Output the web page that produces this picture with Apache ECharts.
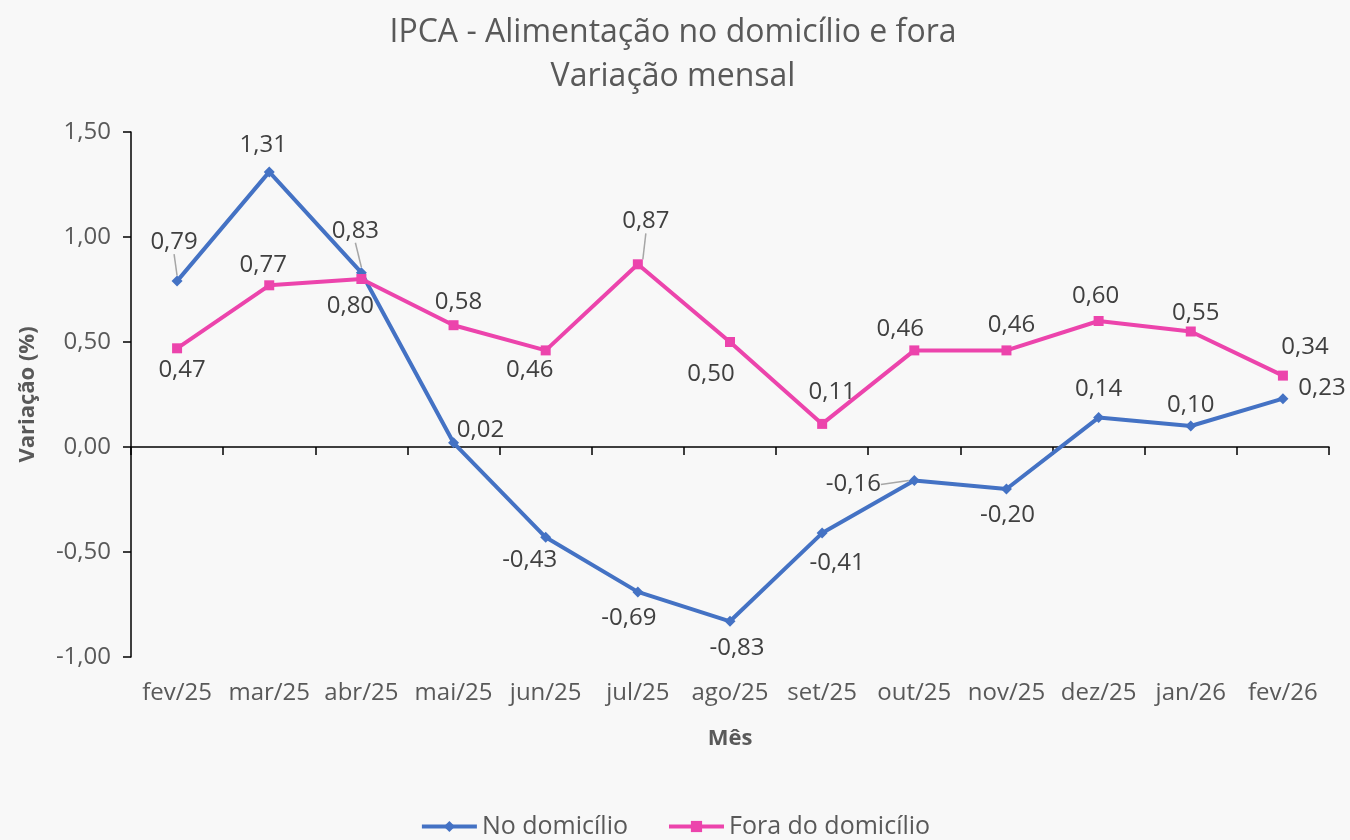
<!DOCTYPE html>
<html>
<head>
<meta charset="utf-8">
<script src="https://cdn.jsdelivr.net/npm/echarts@6/dist/echarts.min.js"></script>
<style>
  html, body { margin: 0; padding: 0; background: #f8f8f8; }
  #main { width: 1350px; height: 840px; }
</style>
</head>
<body>
<div id="main"></div>
<script>
var meses = ['fev/25', 'mar/25', 'abr/25', 'mai/25', 'jun/25', 'jul/25', 'ago/25', 'set/25', 'out/25', 'nov/25', 'dez/25', 'jan/26', 'fev/26'];
var noDomicilio = [0.79, 1.31, 0.83, 0.02, -0.43, -0.69, -0.83, -0.41, -0.16, -0.20, 0.14, 0.10, 0.23];
var foraDomicilio = [0.47, 0.77, 0.80, 0.58, 0.46, 0.87, 0.50, 0.11, 0.46, 0.46, 0.60, 0.55, 0.34];

// label offsets from the point (px), like the hand-placed labels in the original
var offNo = [[-3, -39], [-6, -27], [-6, -42], [27, -13], [-16, 23], [-9, 26], [7, 27], [15, 30], [-61, 4], [1, 26], [0, -28], [0, -21], [39, -11]];
var offFora = [[5, 22], [-6, -20], [-11, 27], [5, -23], [-16, 20], [8, -43], [-19, 32], [10, -32], [-14, -21], [5, -25], [-3, -25], [5, -18], [22, -28]];
var leaderNo = [0, 2, 8];
var leaderFora = [5];

var fmt = function (v) { return v.toFixed(2).replace('.', ','); };
var txt = '#595959';
var font = 'Open Sans';

function buildData(vals, leaders) {
  return vals.map(function (v, i) {
    var item = { value: v };
    if (leaders.indexOf(i) >= 0) {
      item.labelLine = { show: true, lineStyle: { color: '#a6a6a6', width: 1.5 } };
    }
    return item;
  });
}

var chartDom = document.getElementById('main');
var myChart = echarts.init(chartDom);
var option = {
  backgroundColor: '#f8f8f8',
  animation: false,
  textStyle: { fontFamily: font },
  title: {
    text: 'IPCA - Alimentação no domicílio e fora\nVariação mensal',
    left: 668,
    top: 6,
    textAlign: 'center',
    textStyle: { fontFamily: font, fontSize: 32, fontWeight: 'normal', color: txt, lineHeight: 44 }
  },
  legend: {
    bottom: -4,
    left: 'center',
    itemWidth: 55,
    itemHeight: 14,
    itemGap: 39,
    lineStyle: { width: 4, inactiveWidth: 4 },
    textStyle: { fontFamily: font, fontSize: 25, color: txt },
    data: ['No domicílio', 'Fora do domicílio']
  },
  grid: { left: 131, right: 21, top: 132, bottom: 183, containLabel: false, outerBoundsMode: 'none' },
  xAxis: [
    {
      type: 'category',
      data: meses,
      boundaryGap: true,
      axisLine: { onZero: true, lineStyle: { color: '#000', width: 1.5 } },
      axisTick: { show: true, length: 8, lineStyle: { color: '#000', width: 1.5 } },
      axisLabel: { show: false }
    },
    {
      type: 'category',
      data: meses,
      position: 'bottom',
      boundaryGap: true,
      axisLine: { show: false, onZero: false },
      axisTick: { show: false },
      axisLabel: { show: true, interval: 0, hideOverlap: false, margin: 24, fontSize: 24, color: txt, fontFamily: font },
      name: 'Mês',
      nameLocation: 'middle',
      nameGap: 71,
      nameTextStyle: { fontSize: 22, fontWeight: 'bold', color: txt, fontFamily: font }
    }
  ],
  yAxis: {
    type: 'value',
    min: -1,
    max: 1.5,
    interval: 0.5,
    splitLine: { show: false },
    axisLine: { show: true, lineStyle: { color: '#000', width: 1.5 } },
    axisTick: { show: true, length: 8, lineStyle: { color: '#000', width: 1.5 } },
    axisLabel: { fontSize: 24, color: txt, margin: 20, fontFamily: font, formatter: fmt },
    name: 'Variação (%)',
    nameLocation: 'middle',
    nameGap: 92,
    nameTextStyle: { fontSize: 22, fontWeight: 'bold', color: txt, fontFamily: font }
  },
  series: [
    {
      name: 'No domicílio',
      type: 'line',
      data: buildData(noDomicilio, leaderNo),
      symbol: 'diamond',
      symbolSize: 11,
      lineStyle: { color: '#4472c4', width: 4 },
      itemStyle: { color: '#4472c4' },
      label: {
        show: true, position: 'inside', fontSize: 24, color: '#404040', fontFamily: font,
        formatter: function (p) { return fmt(p.value); }
      },
      labelLayout: function (p) { return { dx: offNo[p.dataIndex][0], dy: offNo[p.dataIndex][1] }; },
      labelLine: { show: false }
    },
    {
      name: 'Fora do domicílio',
      type: 'line',
      data: buildData(foraDomicilio, leaderFora),
      symbol: 'rect',
      symbolSize: 10,
      lineStyle: { color: '#ec44ac', width: 4 },
      itemStyle: { color: '#ec44ac' },
      label: {
        show: true, position: 'inside', fontSize: 24, color: '#404040', fontFamily: font,
        formatter: function (p) { return fmt(p.value); }
      },
      labelLayout: function (p) { return { dx: offFora[p.dataIndex][0], dy: offFora[p.dataIndex][1] }; },
      labelLine: { show: false }
    }
  ]
};

option && myChart.setOption(option);
</script>
</body>
</html>
